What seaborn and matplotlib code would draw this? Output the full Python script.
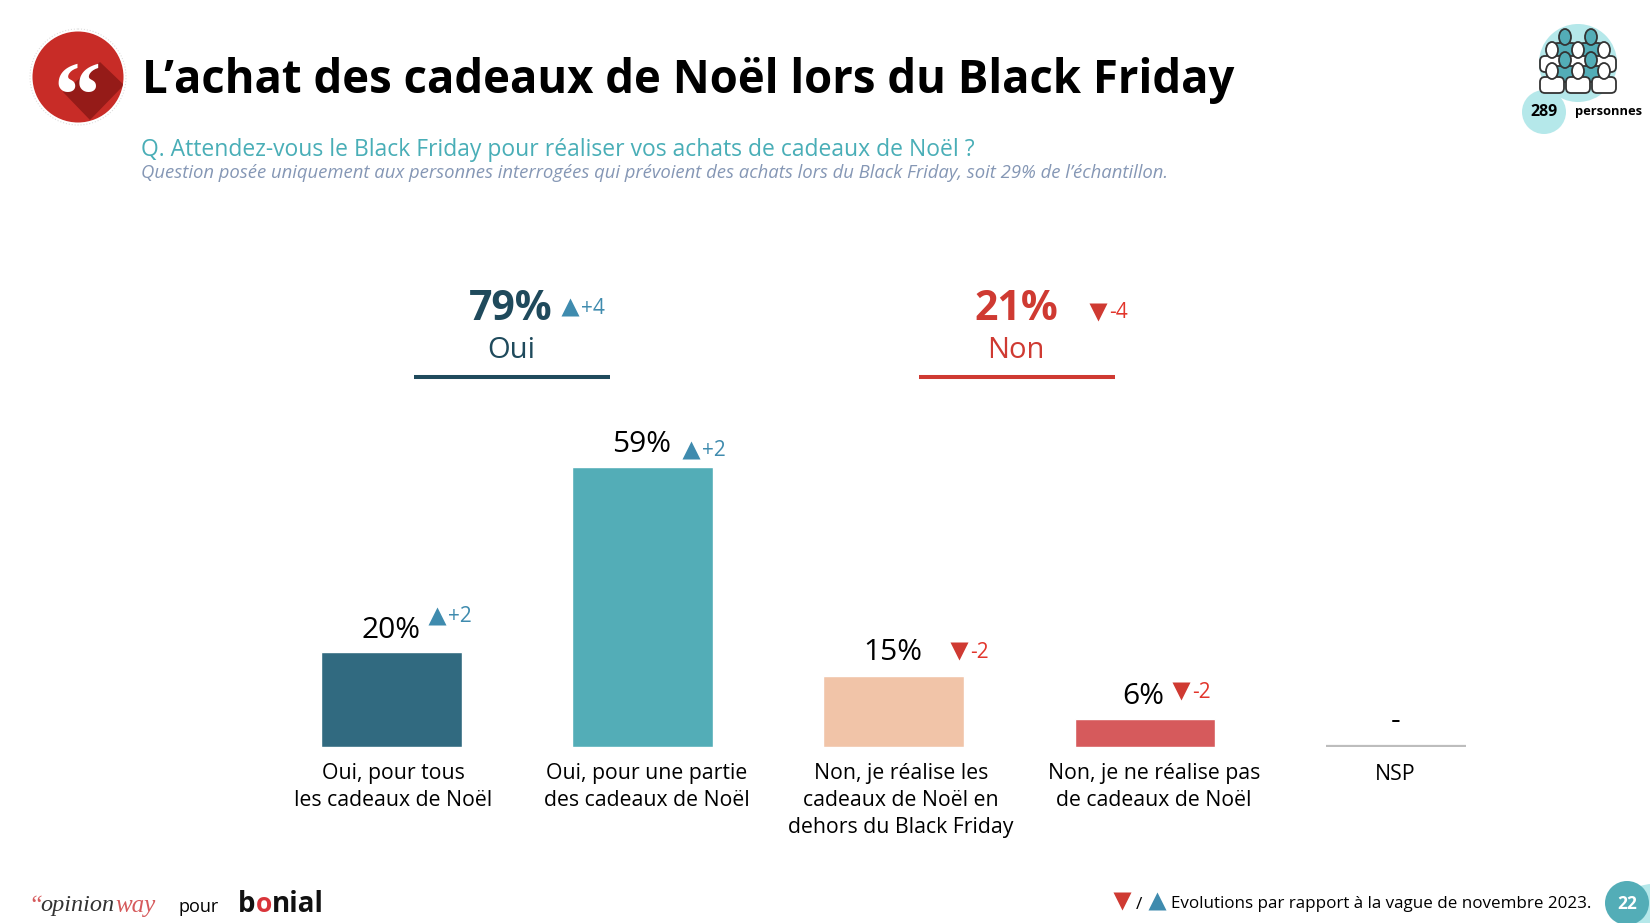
import matplotlib
matplotlib.use("Agg")
import matplotlib.pyplot as plt
from matplotlib.patches import Circle, Polygon, Ellipse, FancyBboxPatch
import pandas as pd
import seaborn as sns

# ---------- data ----------
categories = ["Oui, pour tous\nles cadeaux de Noël",
              "Oui, pour une partie\ndes cadeaux de Noël",
              "Non, je réalise les\ncadeaux de Noël en\ndehors du Black Friday",
              "Non, je ne réalise pas\nde cadeaux de Noël",
              "NSP"]
values = [20, 59, 15, 6, 0]
value_labels = ["20%", "59%", "15%", "6%", "-"]
deltas = ["+2", "+2", "-2", "-2", None]
bar_colors = ["#316A80", "#53ADB7", "#F1C4A8", "#D65A5C", "#FFFFFF"]
group_names = ["Oui", "Non"]
group_values = ["79%", "21%"]
group_deltas = ["+4", "-4"]
title = "L’achat des cadeaux de Noël lors du Black Friday"
question = "Q. Attendez-vous le Black Friday pour réaliser vos achats de cadeaux de Noël ?"
note = ("Question posée uniquement aux personnes interrogées qui prévoient des achats "
        "lors du Black Friday, soit 29% de l’échantillon.")
footnote = "Evolutions par rapport à la vague de novembre 2023."
sample = "289"
page = "22"

# ---------- setup ----------
sns.set_theme(style="white")
plt.rcParams["font.family"] = ["Open Sans", "DejaVu Sans"]
W, H = 1650, 923
fig = plt.figure(figsize=(W / 100, H / 100), dpi=100, facecolor="white")

# bar axes: baseline at y=747 px, 4.75 px per point, categories 251 px apart
base, ppu, x0, x1 = 747, 4.75, 266, 1521.5
ax = fig.add_axes([x0 / W, 1 - base / H, (x1 - x0) / W, 60 * ppu / H])
df = pd.DataFrame({"cat": categories, "val": values})
sns.barplot(data=df, x="cat", y="val", hue="cat", palette=bar_colors, legend=False,
            width=0.56, saturation=1, ax=ax)
ax.set_xlim(-0.5, 4.5)
ax.set_ylim(0, 60)
ax.hlines(0.3, 4 - 0.278, 4 + 0.278, color="#BDBDBD", lw=1.6)
ax.axis("off")

# overlay in pixel coordinates
ov = fig.add_axes([0, 0, 1, 1], facecolor="none")
ov.set_xlim(0, W)
ov.set_ylim(H, 0)
ov.axis("off")

def T(x, y, s, size, color="black", ha="center", weight="normal", style="normal", family=None, **kw):
    return ov.text(x, y, s, fontsize=size, color=color, ha=ha, va="center", fontweight=weight,
                   fontstyle=style, family=family or ["Open Sans", "DejaVu Sans"], **kw)

UP, DOWN, DOWN_T = "#3F8BAE", "#CF3A32", "#E2352B"

def delta(x, y, s, size=15):
    up = s.startswith("+")
    ov.plot([x], [y], marker="^" if up else "v", ms=13.5, mec="none", color=UP if up else DOWN)
    T(x + 11, y + 1, s, size, color=UP if up else DOWN_T, ha="left")

# header
T(142, 80, title, 32.8, weight="bold", ha="left")
T(141, 150, question, 16.5, color="#49AEB7", ha="left")
T(141, 173, note, 13.3, color="#8597B5", ha="left", style="italic")

# red logo
ov.add_patch(Circle((78, 77), 48, fc="white", ec="#DDDDDD", lw=0.8, ls=":"))
logo = Circle((78, 77), 45.5, fc="#C82C27", ec="none")
ov.add_patch(logo)
sh = Polygon([[63, 92], [100, 62], [124, 85], [90, 120]], fc="#951B18", ec="none")
ov.add_patch(sh)
sh.set_clip_path(logo)
T(77, 104, "“", 68, color="white", family="Liberation Serif", weight="bold")

# sample icon
ov.add_patch(Circle((1578, 63), 39, fc="#B5E8EA", ec="none"))
ov.add_patch(Circle((1544, 112), 22, fc="#B5E8EA", ec="none"))

def person(x, y, fc, w=12):
    ov.add_patch(FancyBboxPatch((x - w, y + 6), 2 * w, 16, boxstyle="round,pad=0,rounding_size=5",
                                fc=fc, ec="#333333", lw=1.3))
    ov.add_patch(Ellipse((x, y), 12, 16, fc=fc, ec="#333333", lw=1.3))

for px, py, pc in [(1565, 37, "#53ADB7"), (1591, 37, "#53ADB7"),
                   (1552, 50, "white"), (1578, 50, "white"), (1604, 50, "white"),
                   (1565, 60, "#53ADB7"), (1591, 60, "#53ADB7"),
                   (1552, 71, "white"), (1578, 71, "white"), (1604, 71, "white")]:
    person(px, py, pc)
T(1544, 112, sample, 11.5, weight="bold")
T(1608, 112, "personnes", 9.3, weight="bold")

# group headers
for i, (cx, c, dx, dy) in enumerate([(511, "#1F4A5C", 570, 307), (1016, "#CF3A32", 1098, 312)]):
    T(cx, 309, group_values[i], 29.5, color=c, weight="bold")
    T(cx, 351, group_names[i], 21, color=c)
    ov.plot([cx - 97, cx + 99], [377, 377], color=c, lw=2.9, solid_capstyle="butt")
    delta(dx, dy, group_deltas[i])

# bar labels
lab_x = [391, 642, 893, 1143, 1396]
lab_y = [630, 445, 653, 696, 721]
delta_xy = [(437, 616), (691, 450), (959, 651), (1181, 691), None]
text_x = [393.5, 647, 901, 1154, 1395]
text_y = [773, 773, 773, 773, 774]
for i, cat in enumerate(categories):
    T(lab_x[i], lab_y[i], value_labels[i], 21.5)
    if deltas[i]:
        delta(*delta_xy[i], deltas[i])
    for k, line in enumerate(cat.split("\n")):
        T(text_x[i], text_y[i] + 27 * k, line, 15.3)

# footer
T(28, 906, "“", 18, color="#D65A5C", ha="left", family="Liberation Serif", style="italic")
T(40, 906, "opinion", 17.5, color="#333333", ha="left", family="Liberation Serif", style="italic")
T(115, 906, "way", 18, color="#D65A5C", ha="left", family="Liberation Serif", style="italic")
T(199, 907, "pour", 13)
T(238, 904, "b", 20, ha="left", weight="bold", color="#111111")
T(255.5, 905, "o", 19, ha="left", weight="bold", color="#D9343A")
T(272, 904, "nial", 20, ha="left", weight="bold", color="#111111")
ov.plot([1122], [901], marker="v", ms=13, mec="none", color=DOWN)
T(1139, 905, "/", 12.5)
ov.plot([1157], [901], marker="^", ms=13, mec="none", color=UP)
T(1171, 904, footnote, 12.25, ha="left")
ov.add_patch(Circle((1652, 918), 34, fc="#B5E8EA", ec="none"))
ov.add_patch(Circle((1627, 903), 22, fc="#53ADB7", ec="none"))
T(1627, 904, page, 12.5, color="white", weight="bold")

fig.savefig("out.png", dpi=100)
